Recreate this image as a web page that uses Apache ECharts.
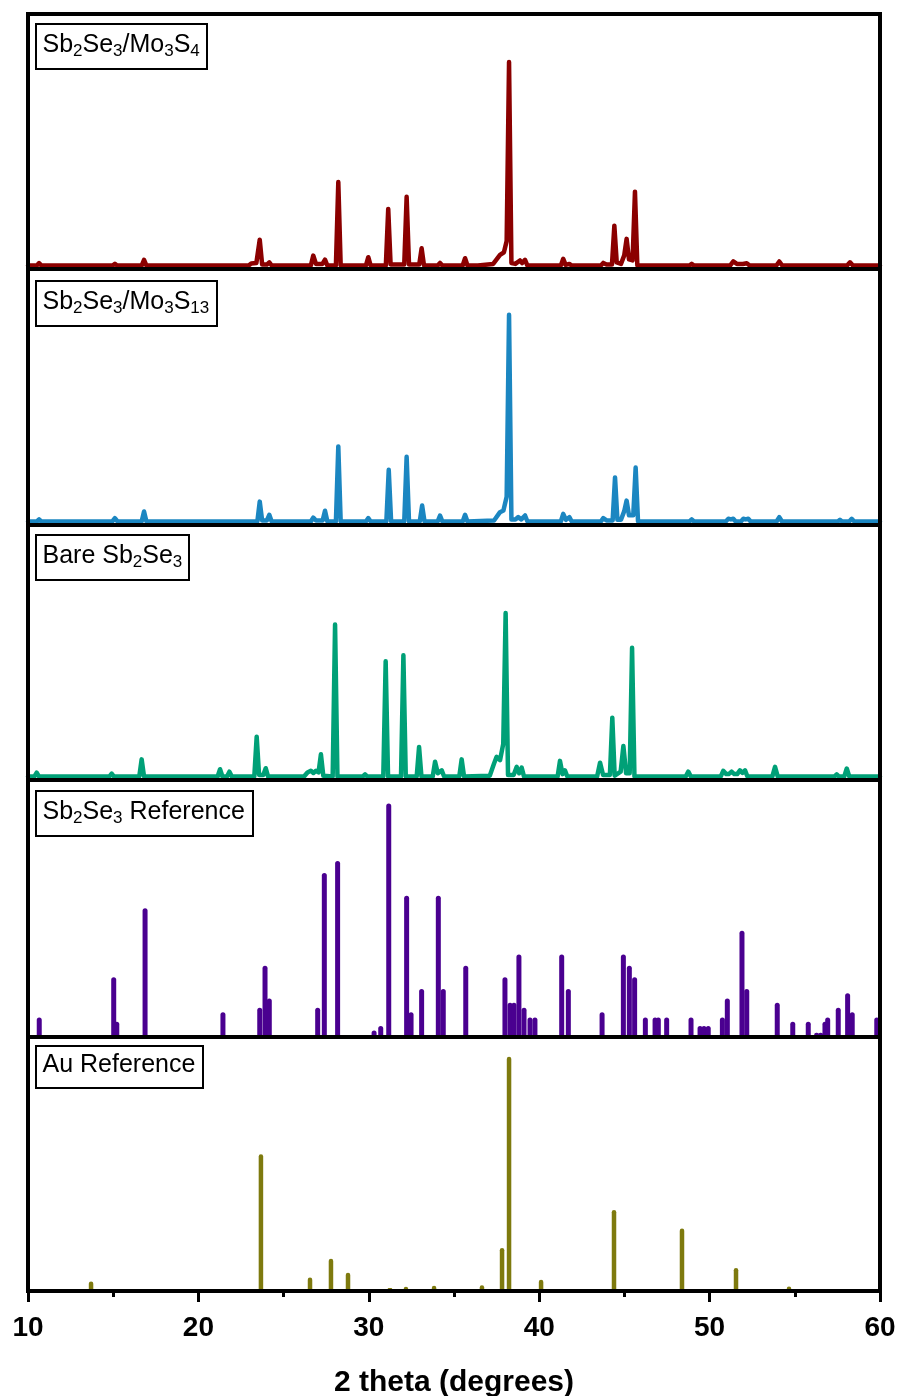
<!DOCTYPE html>
<html>
<head>
<meta charset="utf-8">
<script src="https://cdn.jsdelivr.net/npm/echarts@6.0.0/dist/echarts.min.js"></script>
<style>
  html, body { margin: 0; padding: 0; background: #ffffff; }
  #chart { width: 899px; height: 1396px; }
</style>
</head>
<body>
<div id="chart"></div>
<script>
// 2θ range shared by all panels
const xMin = 10;
const xMax = 60;
const xTickStep = 10;

// Measured diffraction patterns: [2θ (deg), relative intensity (%)]
const mo3s4Pattern = [
  [10.0,0],[10.52,0],[10.65,1.2],[10.78,0],
  [14.97,0],[15.1,0.8],[15.23,0],
  [16.67,0],[16.81,2.8],[16.95,0],
  [21.3,0],[21.4,0.6],[21.5,0],
  [22.95,0],[23.1,1],[23.4,1.2],[23.46,1.2],[23.6,12.7],[23.74,0.5],[24.02,0.5],[24.16,1.6],[24.3,0],
  [26.6,0],[26.74,4.9],[26.9,0.8],[27.28,0.8],[27.43,2.9],[27.57,0],
  [28.07,0],[28.21,41],[28.35,0],
  [29.83,0],[29.97,4.1],[30.11,0],
  [31.0,0],[31.14,27.8],[31.28,0.5],[32.08,0.5],[32.22,33.8],[32.36,0.5],
  [32.96,0.5],[33.1,8.5],[33.24,0],
  [34.04,0],[34.18,1.3],[34.32,0],
  [35.51,0],[35.65,3.6],[35.79,0],
  [36.4,0],[37.3,0.8],[37.7,5.2],[37.93,6.5],[38.09,12],[38.23,100],[38.37,1.2],[38.6,0.8],[38.87,2.5],
  [39.0,1.2],[39.17,2.8],[39.31,0],
  [41.27,0],[41.41,3.3],[41.55,0.3],[41.77,0.8],[41.91,0],
  [43.62,0],[43.76,1.3],[43.95,0.5],[44.27,0.5],[44.41,19.6],[44.55,1.5],[44.8,0.8],[44.99,5],[45.13,13.1],
  [45.27,3],[45.48,2.5],[45.62,36.3],[45.76,0],
  [48.81,0],[48.95,0.8],[49.09,0],
  [51.2,0],[51.39,2],[51.6,0.8],[51.95,0.8],[52.18,1.1],[52.35,0],
  [53.92,0],[54.09,2],[54.26,0],
  [58.07,0],[58.24,1.6],[58.41,0],[60.0,0]
];

const mo3s13Pattern = [
  [10.0,0],[10.52,0],[10.65,1.0],[10.78,0],
  [14.95,0],[15.1,1.6],[15.25,0],
  [16.67,0],[16.81,4.8],[16.95,0],
  [21.3,0],[21.4,0.5],[21.5,0],
  [23.46,0],[23.6,9.6],[23.74,0.5],[24.02,0.5],[24.16,3.2],[24.3,0],
  [26.6,0],[26.74,1.9],[26.9,0.5],[27.29,0.5],[27.43,5.2],[27.57,0],
  [28.07,0],[28.21,36.3],[28.35,0],
  [29.83,0],[29.97,1.6],[30.11,0],
  [31.03,0],[31.17,25],[31.31,0],
  [32.08,0],[32.22,31.3],[32.36,0],
  [32.99,0],[33.13,7.7],[33.27,0],
  [34.04,0],[34.18,2.9],[34.32,0],
  [35.51,0],[35.65,3.2],[35.79,0],
  [37.35,0.5],[37.7,4.5],[37.9,5.3],[38.09,12],[38.23,100],[38.37,1],[38.6,1],[38.77,2.1],[38.95,1],
  [39.17,2.9],[39.31,0],
  [41.27,0],[41.41,3.7],[41.57,0.8],[41.77,2.1],[41.91,0],
  [43.62,0],[43.76,1.6],[43.95,0.5],[44.31,0.5],[44.45,21.3],[44.59,0.8],[44.8,0.8],[44.99,5],[45.13,10.1],
  [45.27,3],[45.52,3],[45.66,26.1],[45.8,0],
  [46.5,0],[46.6,0.5],[46.7,0],[47.1,0],[47.2,0.5],[47.3,0],
  [48.81,0],[48.95,1],[49.09,0],
  [50.95,0],[51.1,1.3],[51.25,1],[51.39,1.3],[51.53,0],[51.84,0],[51.98,1.3],[52.12,1],[52.27,1.3],[52.41,0],
  [53.93,0],[54.09,2.1],[54.25,0],
  [57.52,0],[57.65,0.8],[57.78,0],[58.19,0],[58.34,1.3],[58.49,0],[60.0,0]
];

const bareSb2Se3Pattern = [
  [10.0,0],[10.37,0],[10.51,2.4],[10.65,0],
  [14.77,0],[14.91,1.8],[15.05,0],
  [16.53,0],[16.67,10.5],[16.81,0],
  [21.13,0],[21.27,4.5],[21.41,0],[21.68,0],[21.82,3],[21.96,0],
  [23.28,0],[23.42,24.4],[23.56,1],[23.81,1],[23.95,5.1],[24.09,0],
  [26.2,0],[26.4,2.5],[26.5,1.8],[26.6,3.5],[26.75,2.2],[26.9,3.5],[27.05,2.5],[27.19,13.6],[27.33,0.5],
  [27.88,0],[28.02,92.9],[28.16,0],
  [29.64,0],[29.78,1.4],[29.92,0],
  [30.85,0],[30.99,70.5],[31.13,0],
  [31.89,0],[32.03,74.2],[32.17,0],
  [32.81,0],[32.95,18.1],[33.09,0],
  [33.75,0],[33.89,9.1],[34.05,2],[34.28,3.8],[34.42,0],
  [35.31,0],[35.45,10.5],[35.59,0],
  [37.1,0.5],[37.35,8],[37.5,12],[37.7,10],[37.89,20],[38.03,100],[38.17,1],[38.5,1],[38.68,5.9],[38.82,2],
  [38.97,5.5],[39.11,0],
  [41.08,0],[41.22,9.6],[41.37,1.5],[41.51,3.8],[41.65,0],
  [43.4,0],[43.57,8.5],[43.75,1],[44.15,1],[44.29,36],[44.43,0.5],[44.78,3],[44.94,18.7],[45.1,2],[45.31,2],
  [45.45,78.7],[45.59,0],
  [48.6,0],[48.75,3],[48.9,0],
  [50.65,0],[50.8,3.5],[50.98,1.5],[51.12,1.5],[51.29,3],[51.45,1.5],[51.62,1.5],[51.78,3.8],[51.93,2.2],
  [52.08,3.8],[52.22,0],
  [53.68,0],[53.84,5.9],[54.0,0],
  [57.32,0],[57.46,1.4],[57.6,0],[57.9,0],[58.05,4.9],[58.2,0],[60.0,0]
];

// Reference stick patterns: [2θ (deg), relative intensity (%)]
const sb2se3RefPeaks = [
  [10.66,7.6],[15.03,24.9],[15.21,5.7],[16.87,54.7],[21.44,9.8],[23.60,11.8],[23.91,29.9],[24.16,15.8],
  [27.00,11.8],[27.39,69.9],[28.17,75.1],[30.31,1.9],[30.70,3.9],[31.17,100],[32.22,60.1],[32.48,9.8],
  [33.10,19.9],[34.08,60.1],[34.37,19.9],[35.69,29.9],[37.99,24.9],[38.29,13.9],[38.52,13.9],[38.81,34.8],
  [39.11,11.8],[39.46,7.6],[39.75,7.6],[41.32,34.8],[41.71,19.9],[43.69,9.8],[44.94,34.8],[45.29,29.9],
  [45.60,24.9],[46.23,7.6],[46.80,7.6],[46.99,7.6],[47.48,7.6],[48.91,7.6],[49.44,3.9],[49.67,3.9],
  [49.92,3.9],[50.75,7.6],[51.04,15.8],[51.90,45.0],[52.18,19.9],[53.97,13.9],[54.88,5.7],[55.79,5.7],
  [56.28,1.0],[56.52,1.0],[56.77,5.7],[56.93,7.6],[57.55,11.8],[58.10,18.0],[58.37,9.8],[59.81,7.6]
];

const auRefPeaks = [
  [13.70,3.2],[23.67,58],[26.55,5],[27.78,13],[28.78,7],[31.24,0.4],[32.18,1],[33.83,1.4],
  [36.64,1.6],[37.82,17.6],[38.23,100],[40.11,4],[44.39,34],[48.38,26],[51.55,9],[54.66,1.1]
];

// Panel captions (rich text: m = normal, s = subscript)
const panelCaptions = [
  '{m|Sb}{s|2}{m|Se}{s|3}{m|/Mo}{s|3}{m|S}{s|4}',
  '{m|Sb}{s|2}{m|Se}{s|3}{m|/Mo}{s|3}{m|S}{s|13}',
  '{m|Bare Sb}{s|2}{m|Se}{s|3}',
  '{m|Sb}{s|2}{m|Se}{s|3}{m| Reference}',
  '{m|Au Reference}'
];

const seriesColors = ['#8b0000', '#1b86c1', '#00a077', '#4a0090', '#7e7a0e'];

// Panel layout (pixels) and vertical value ranges
const panelEdges = [14, 269, 525, 780, 1037, 1291];
const yRanges = [[-1.7, 123.6], [-1.7, 122.1], [-2.1, 153.8], [-0.86, 110.1], [-0.86, 108.5]];
const captionBoxes = [
  [36, 24, 171, 45], [36, 281, 181, 45], [36, 535, 153, 45], [36, 791, 217, 45], [36, 1046, 167, 42]
];

const FONT = "'Liberation Sans', Arial, sans-serif";

const grids = [], xAxes = [], yAxes = [], series = [];
for (let i = 0; i < 5; i++) {
  grids.push({
    left: 28, right: 19,
    top: panelEdges[i], height: panelEdges[i + 1] - panelEdges[i],
    show: true, borderColor: '#000', borderWidth: 4, backgroundColor: 'transparent',
    z: 5, containLabel: false, outerBoundsMode: 'none'
  });
  const isBottom = i === 4;
  xAxes.push({
    type: 'value', gridIndex: i, min: xMin, max: xMax, interval: xTickStep,
    show: isBottom,
    splitLine: { show: false },
    axisLine: { show: isBottom, onZero: false, lineStyle: { color: '#000', width: 4 } },
    axisTick: { show: isBottom, inside: false, length: 11, lineStyle: { color: '#000', width: 3 } },
    minorTick: { show: isBottom, splitNumber: 2, length: 6, lineStyle: { color: '#000', width: 3 } },
    axisLabel: {
      show: isBottom, margin: 23, color: '#000', fontSize: 28, fontWeight: 'bold',
      fontFamily: FONT, lineHeight: 28, showMinLabel: true, showMaxLabel: true, hideOverlap: false
    },
    name: isBottom ? '2 theta (degrees)' : '',
    nameLocation: 'middle', nameGap: 77,
    nameTextStyle: { color: '#000', fontSize: 30, fontWeight: 'bold', fontFamily: FONT }
  });
  yAxes.push({
    type: 'value', gridIndex: i, min: yRanges[i][0], max: yRanges[i][1],
    show: false, splitLine: { show: false }
  });
}

const patterns = [mo3s4Pattern, mo3s13Pattern, bareSb2Se3Pattern];
patterns.forEach((data, i) => {
  series.push({
    type: 'line', xAxisIndex: i, yAxisIndex: i, data: data,
    showSymbol: false, symbol: 'none', smooth: false, clip: true, z: 2,
    lineStyle: { color: seriesColors[i], width: 4.5, join: 'round', cap: 'round' },
    animation: false, silent: true
  });
});

[[sb2se3RefPeaks, 3, 5], [auRefPeaks, 4, 4.5]].forEach(([data, i, w]) => {
  series.push({
    type: 'bar', xAxisIndex: i, yAxisIndex: i, data: data,
    barWidth: w, z: 2,
    itemStyle: { color: seriesColors[i], borderRadius: [w / 2, w / 2, 0, 0] },
    animation: false, silent: true
  });
});

const graphics = [];
captionBoxes.forEach((b, i) => {
  graphics.push({
    type: 'rect', z: 100,
    shape: { x: b[0], y: b[1], width: b[2], height: b[3] },
    style: { fill: '#fff', stroke: '#000', lineWidth: 2 }
  });
  graphics.push({
    type: 'text', z: 101,
    x: b[0] + 6.5, y: b[1] + b[3] / 2 - 1.5,
    style: {
      text: panelCaptions[i],
      verticalAlign: 'middle', align: 'left',
      rich: {
        m: { fontSize: 25, fontFamily: FONT, fill: '#000', lineHeight: 30 },
        s: { fontSize: 17, fontFamily: FONT, fill: '#000', lineHeight: 12, verticalAlign: 'bottom' }
      }
    }
  });
});

const chart = echarts.init(document.getElementById('chart'), null, { renderer: 'canvas' });
chart.setOption({
  backgroundColor: '#fff',
  animation: false,
  grid: grids,
  xAxis: xAxes,
  yAxis: yAxes,
  series: series,
  graphic: graphics
});
</script>
</body>
</html>
